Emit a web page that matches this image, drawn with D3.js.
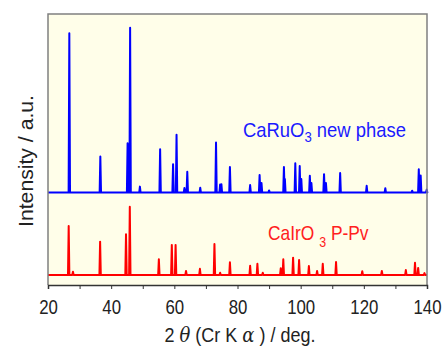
<!DOCTYPE html>
<html>
<head>
<meta charset="utf-8">
<script src="https://cdn.jsdelivr.net/npm/d3@7"></script>
<style>
  body { margin: 0; background: #fff; }
  svg { display: block; }
  text { font-family: "Liberation Sans", Arial, sans-serif; }
</style>
</head>
<body>
<div id="chart"></div>
<script>
const ruPeaks = [
  [26.75, 58.8], [36.57, 13.3], [45.2, 18.2], [46.0, 60.8], [49.1, 2.2],
  [55.5, 16.0], [59.6, 10.5], [60.7, 21.3], [63.2, 1.7], [64.1, 7.7],
  [68.2, 1.8], [73.2, 18.5], [74.5, 3.0], [74.9, 3.1], [77.6, 9.4],
  [84.0, 2.8], [87.0, 6.5], [87.6, 3.5], [90.0, 0.8], [94.7, 9.4],
  [95.0, 5.0], [98.3, 10.8], [99.7, 9.8], [100.2, 5.0], [102.9, 6.2],
  [103.4, 3.5], [107.4, 6.8], [108.0, 3.5], [112.5, 7.2], [120.9, 2.5],
  [126.8, 1.6], [135.3, 0.7], [137.4, 8.6], [138.0, 6.3], [139.9, 1.1]
];
const irPeaks = [
  [26.55, 18.1], [27.9, 1.2], [36.5, 12.3], [44.7, 15.0], [45.9, 25.2],
  [55.1, 5.8], [59.2, 11.1], [60.4, 11.1], [63.7, 1.5], [68.1, 2.3],
  [72.7, 11.4], [74.5, 0.8], [77.6, 4.7], [84.0, 3.4], [86.3, 4.1],
  [88.0, 0.8], [93.7, 2.5], [94.5, 5.8], [97.6, 6.4], [99.5, 5.5],
  [102.6, 3.3], [105.2, 1.5], [107.0, 4.1], [111.2, 4.8], [119.5, 1.4],
  [125.7, 1.5], [133.3, 1.8], [136.2, 4.5], [137.2, 2.6], [139.2, 0.7]
];
const ruOffset = 34.1;
const irOffset = 3.7;
const xTicks = [20, 40, 60, 80, 100, 120, 140];
const xMinor = [30, 50, 70, 90, 110, 130];

const W = 444, H = 347;
const margin = {top: 14, right: 17, bottom: 62, left: 48};
const width = W - margin.left - margin.right;
const height = H - margin.top - margin.bottom;

const svg = d3.select('#chart').append('svg')
  .attr('width', W)
  .attr('height', H);

const g = svg.append('g')
  .attr('transform', 'translate(' + margin.left + ',' + margin.top + ')');

const x = d3.scaleLinear().domain([20, 140]).range([0, width]);
const y = d3.scaleLinear().domain([0, 100]).range([height, 0]);

g.append('rect')
  .attr('width', width)
  .attr('height', height)
  .attr('fill', '#fffee9');

// turn a peak list into a baseline/peak/baseline polyline
function profile(peaks, offset) {
  const pts = [[20, offset]];
  peaks.forEach(function(p) {
    pts.push([p[0] - 0.22, offset]);
    pts.push([p[0], offset + p[1]]);
    pts.push([p[0] + 0.22, offset]);
  });
  pts.push([140, offset]);
  return pts;
}

const line = d3.line()
  .x(function(d) { return x(d[0]); })
  .y(function(d) { return y(d[1]); });

g.append('path')
  .attr('d', line(profile(irPeaks, irOffset)))
  .attr('fill', 'none')
  .attr('stroke', '#ff0000')
  .attr('stroke-width', 2)
  .attr('stroke-linejoin', 'round');

g.append('path')
  .attr('d', line(profile(ruPeaks, ruOffset)))
  .attr('fill', 'none')
  .attr('stroke', '#0000ff')
  .attr('stroke-width', 2)
  .attr('stroke-linejoin', 'round');

// frame
g.append('path')
  .attr('d', 'M0,' + height + 'V0H' + width + 'V' + height)
  .attr('fill', 'none')
  .attr('stroke', '#808080')
  .attr('stroke-width', 1.5);

// squeeze a text horizontally to the width it has in the picture
function fit(sel, target, ax) {
  const w = sel.node().getBBox().width;
  const s = target / w;
  sel.attr('transform', 'translate(' + ax + ',0) scale(' + s + ',1) translate(' + (-ax) + ',0)');
}

// x axis
const xAxis = d3.axisBottom(x).tickValues(xTicks).tickSize(4).tickPadding(10);
const ax = g.append('g')
  .attr('transform', 'translate(0,' + height + ')')
  .call(xAxis);
ax.select('.domain').attr('stroke', '#333').attr('stroke-width', 1.5);
ax.selectAll('.tick line').attr('stroke', '#333');
ax.selectAll('.tick text')
  .attr('fill', '#222')
  .style('font-size', '21px')
  .attr('transform', 'scale(0.8,1)');

g.append('g')
  .attr('transform', 'translate(0,' + height + ')')
  .call(d3.axisBottom(x).tickValues(xMinor).tickSize(4).tickFormat(''))
  .call(function(s) { s.select('.domain').remove(); })
  .selectAll('.tick line').attr('stroke', '#333');

// axis titles
const xt = svg.append('text')
  .attr('x', 240)
  .attr('y', 342)
  .attr('text-anchor', 'middle')
  .attr('fill', '#222')
  .style('font-size', '21px');
xt.append('tspan').text('2 ');
xt.append('tspan').text('θ').style('font-style', 'italic').style('font-family', 'DejaVu Serif');
xt.append('tspan').text(' (Cr K ');
xt.append('tspan').text('α').style('font-style', 'italic').style('font-family', 'DejaVu Serif');
xt.append('tspan').text(' ) / deg.');
fit(xt, 151, 240);

const yl = svg.append('g').attr('transform', 'translate(33,161) rotate(-90)');
const yt = yl.append('text')
  .attr('text-anchor', 'middle')
  .attr('fill', '#222')
  .style('font-size', '21px')
  .text('Intensity / a.u.');
fit(yt, 132, 0);

// series labels
const ru = svg.append('text')
  .attr('x', 243)
  .attr('y', 137)
  .attr('fill', '#1a1aff')
  .style('font-size', '21px');
ru.append('tspan').text('CaRuO');
ru.append('tspan').text('3').attr('dy', 5).style('font-size', '15px');
ru.append('tspan').text(' new phase').attr('dy', -5);
fit(ru, 163, 243);

const ir = svg.append('text')
  .attr('x', 268)
  .attr('y', 240)
  .attr('fill', '#ff2020')
  .style('font-size', '21px');
ir.append('tspan').text('CaIrO ');
ir.append('tspan').text('3').attr('dy', 7).style('font-size', '15px');
ir.append('tspan').text(' P-Pv').attr('dy', -7);
fit(ir, 101, 268);
</script>
</body>
</html>
